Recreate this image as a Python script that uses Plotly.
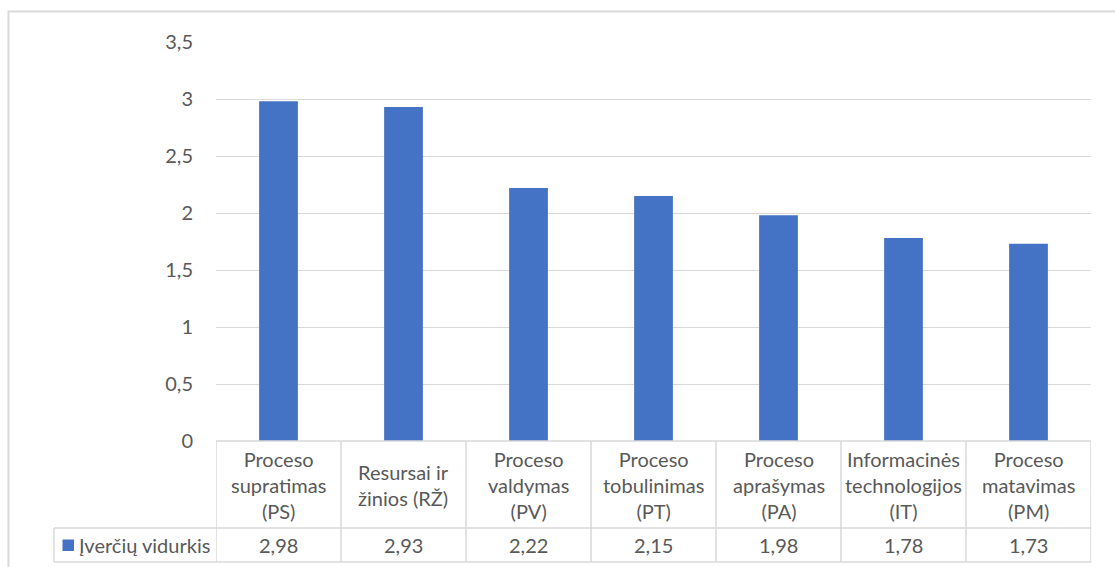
import plotly.graph_objects as go

# Data
categories = [
    "Proceso<br>supratimas<br>(PS)",
    "Resursai ir<br>žinios (RŽ)",
    "Proceso<br>valdymas<br>(PV)",
    "Proceso<br>tobulinimas<br>(PT)",
    "Proceso<br>aprašymas<br>(PA)",
    "Informacinės<br>technologijos<br>(IT)",
    "Proceso<br>matavimas<br>(PM)",
]
series_name = "Įverčių vidurkis"
values = [2.98, 2.93, 2.22, 2.15, 1.98, 1.78, 1.73]
y_ticks = [0, 0.5, 1, 1.5, 2, 2.5, 3, 3.5]

W, H = 1115, 567
BAR = "#4472C4"
GRID = "#d9d9d9"
TXT = "#595959"
FONT = "Lato"
FS = 20


def px_x(p):
    return p / W


def px_y(p):
    return (H - p) / H


x_idx = list(range(len(categories)))

fig = go.Figure()
fig.add_trace(go.Bar(
    x=x_idx, y=values, name=series_name,
    marker=dict(color=BAR, line=dict(width=0)),
    width=0.31, showlegend=False,
))

# data table: row boundaries (pixels) and column edges on the category axis
top_y, mid_y, bot_y = px_y(441), px_y(528), px_y(562)
left_x = px_x(54)
n = len(categories)

shapes = []
line = dict(color=GRID, width=1.5)
# horizontal table lines
shapes.append(dict(type="line", xref="x", yref="paper", x0=-0.5, x1=n - 0.5,
                   y0=top_y, y1=top_y, line=line))
for yy in (mid_y, bot_y):
    shapes.append(dict(type="line", xref="paper", yref="paper", x0=left_x, x1=px_x(1091.5),
                       y0=yy, y1=yy, line=line))
# vertical column separators
for i in range(n + 1):
    shapes.append(dict(type="line", xref="x", yref="paper", x0=i - 0.5, x1=i - 0.5,
                       y0=bot_y, y1=top_y, line=line))
shapes.append(dict(type="line", xref="paper", yref="paper", x0=left_x, x1=left_x,
                   y0=bot_y, y1=mid_y, line=line))
# legend key
shapes.append(dict(type="rect", xref="paper", yref="paper",
                   x0=px_x(62.5), x1=px_x(74), y0=px_y(551), y1=px_y(539.5),
                   fillcolor=BAR, line=dict(width=0)))
# chart area border
shapes.append(dict(type="rect", xref="paper", yref="paper",
                   x0=px_x(8.5), x1=1.02, y0=-0.02, y1=px_y(11.5),
                   line=dict(color=GRID, width=2), fillcolor="rgba(0,0,0,0)", layer="below"))

annotations = []
for i, (c, v) in enumerate(zip(categories, values)):
    annotations.append(dict(x=i, y=px_y(485), xref="x", yref="paper", text=c,
                            showarrow=False, align="center", yanchor="middle",
                            font=dict(family=FONT, size=FS, color=TXT)))
    annotations.append(dict(x=i, y=px_y(545), xref="x", yref="paper",
                            text=f"{v:.2f}".replace(".", ","), showarrow=False,
                            yanchor="middle",
                            font=dict(family=FONT, size=FS, color=TXT)))
annotations.append(dict(x=px_x(77), y=px_y(545), xref="paper", yref="paper",
                        text=series_name, showarrow=False, xanchor="left", yanchor="middle",
                        font=dict(family=FONT, size=FS, color=TXT)))

fig.update_layout(
    width=W, height=H,
    margin=dict(l=0, r=0, t=0, b=0, autoexpand=False),
    paper_bgcolor="white", plot_bgcolor="white",
    separators=", ",
    shapes=shapes, annotations=annotations,
    xaxis=dict(domain=[px_x(216), px_x(1091)], range=[-0.5, n - 0.5],
               showticklabels=False, showgrid=False, zeroline=False, ticks="",
               automargin=False),
    yaxis=dict(domain=[px_y(441), px_y(42)], range=[0, 3.5],
               tickvals=y_ticks, showgrid=True, gridcolor=GRID, gridwidth=1.3,
               zeroline=False, ticks="", ticklabelstandoff=22, automargin=False,
               tickfont=dict(family=FONT, size=FS, color=TXT)),
)

fig.write_html("out.html")
